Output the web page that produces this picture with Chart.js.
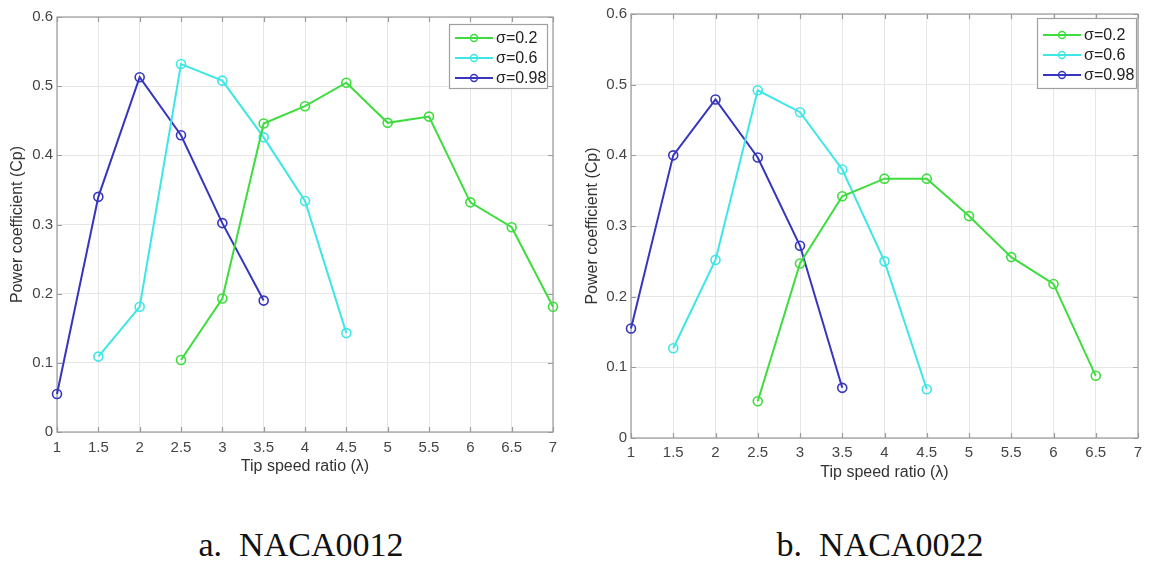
<!DOCTYPE html>
<html>
<head>
<meta charset="utf-8">
<script src="https://cdn.jsdelivr.net/npm/chart.js@4.4.1/dist/chart.umd.min.js"></script>
<style>
  html, body { margin: 0; padding: 0; background: #fff; }
  body { width: 1149px; height: 564px; position: relative; overflow: hidden; }
  .box { position: absolute; top: 0; height: 490px; }
  .cap { position: absolute; top: 526px; font-family: "Liberation Serif", "DejaVu Serif", serif; font-size: 34px; color: #111; white-space: pre; transform: translateX(-50%); }
</style>
</head>
<body>
<div class="box" style="left:0;width:575px"><canvas id="c1"></canvas></div>
<div class="box" style="left:575px;width:574px"><canvas id="c2"></canvas></div>
<div class="cap" style="left:301px">a.  NACA0012</div>
<div class="cap" style="left:880px">b.  NACA0022</div>
<script>
// ---- data ----
const seriesLabels = ["σ=0.2", "σ=0.6", "σ=0.98"];
const seriesColors = ["#3fdc3f", "#3ee6e6", "#3535c0"];

// NACA0012
const a_x02 = [2.5, 3, 3.5, 4, 4.5, 5, 5.5, 6, 6.5, 7];
const a_y02 = [0.104, 0.193, 0.446, 0.471, 0.505, 0.447, 0.456, 0.332, 0.296, 0.181];
const a_x06 = [1.5, 2, 2.5, 3, 3.5, 4, 4.5];
const a_y06 = [0.109, 0.181, 0.532, 0.508, 0.426, 0.334, 0.143];
const a_x098 = [1, 1.5, 2, 2.5, 3, 3.5];
const a_y098 = [0.055, 0.340, 0.513, 0.429, 0.302, 0.190];

// NACA0022
const b_x02 = [2.5, 3, 3.5, 4, 4.5, 5, 5.5, 6, 6.5];
const b_y02 = [0.052, 0.247, 0.342, 0.367, 0.367, 0.314, 0.256, 0.218, 0.088];
const b_x06 = [1.5, 2, 2.5, 3, 3.5, 4, 4.5];
const b_y06 = [0.127, 0.252, 0.492, 0.461, 0.380, 0.250, 0.069];
const b_x098 = [1, 1.5, 2, 2.5, 3, 3.5];
const b_y098 = [0.155, 0.400, 0.479, 0.397, 0.272, 0.071];

const xTitle = "Tip speed ratio (λ)";
const yTitle = "Power coefficient (Cp)";

function pts(xs, ys) { return xs.map((x, i) => ({ x: x, y: ys[i] })); }
function fmt(v) { return String(Number(Number(v).toFixed(2))); }

function ds(i, xs, ys) {
  return {
    label: seriesLabels[i],
    data: pts(xs, ys),
    borderColor: seriesColors[i],
    backgroundColor: "rgba(0,0,0,0)",
    borderWidth: 2,
    pointRadius: 4.5,
    pointBorderWidth: 1.6,
    pointBackgroundColor: "rgba(0,0,0,0)",
    pointBorderColor: seriesColors[i],
    tension: 0,
    clip: false
  };
}

const framePlugin = {
  id: "frame",
  beforeDatasetsDraw(chart) {
    const ctx = chart.ctx, a = chart.chartArea;
    const xs = chart.scales.x, ys = chart.scales.y;
    ctx.save();
    ctx.strokeStyle = "#9a9a9a";
    ctx.lineWidth = 1.2;
    ctx.strokeRect(a.left, a.top, a.right - a.left, a.bottom - a.top);
    ctx.beginPath();
    xs.ticks.forEach(t => {
      const p = Math.round(xs.getPixelForValue(t.value)) + 0.5;
      ctx.moveTo(p, a.bottom); ctx.lineTo(p, a.bottom - 5);
      ctx.moveTo(p, a.top); ctx.lineTo(p, a.top + 5);
    });
    ys.ticks.forEach(t => {
      const p = Math.round(ys.getPixelForValue(t.value)) + 0.5;
      ctx.moveTo(a.left, p); ctx.lineTo(a.left + 5, p);
      ctx.moveTo(a.right, p); ctx.lineTo(a.right - 5, p);
    });
    ctx.stroke();
    ctx.restore();
  },
  afterDraw(chart) {
    const o = chart.options.plugins.frame;
    const ctx = chart.ctx, a = chart.chartArea;
    const bx = a.right - o.dx - o.w, by = a.top + o.dy;
    ctx.save();
    ctx.fillStyle = "#fff";
    ctx.fillRect(bx, by, o.w, o.h);
    ctx.strokeStyle = "#a0a0a0";
    ctx.lineWidth = 1.2;
    ctx.strokeRect(bx + 0.5, by + 0.5, o.w, o.h);
    chart.data.datasets.forEach((d, i) => {
      const yy = by + o.first + i * o.step;
      ctx.strokeStyle = d.borderColor;
      ctx.lineWidth = 2;
      ctx.beginPath();
      ctx.moveTo(bx + 6, yy); ctx.lineTo(bx + 44, yy);
      ctx.stroke();
      ctx.lineWidth = 1.4;
      ctx.beginPath();
      ctx.arc(bx + 25, yy, 3.5, 0, Math.PI * 2);
      ctx.stroke();
      ctx.fillStyle = "#222";
      ctx.font = "16px 'Liberation Sans', Arial, sans-serif";
      ctx.textBaseline = "middle";
      ctx.textAlign = "left";
      ctx.fillText(d.label, bx + 47, yy + 1);
    });
    ctx.restore();
  }
};

function makeChart(id, datasets, geo) {
  const H = 490;
  return new Chart(document.getElementById(id), {
    type: "line",
    data: { datasets: datasets },
    plugins: [framePlugin],
    options: {
      responsive: true,
      maintainAspectRatio: false,
      animation: false,
      events: [],
      layout: { padding: { left: 0, top: geo.top, right: geo.W - geo.right, bottom: 0 } },
      plugins: {
        legend: { display: false },
        tooltip: { enabled: false },
        frame: geo.legend
      },
      scales: {
        x: {
          type: "linear", min: 1, max: 7,
          afterFit: s => { s.height = H - geo.bottom; },
          border: { display: false },
          grid: { color: "#e6e6e6", lineWidth: 1, drawTicks: false },
          ticks: { stepSize: 0.5, padding: geo.xpad, color: "#444", callback: fmt, font: { family: "'Liberation Sans', Arial, sans-serif", size: 15 }, maxRotation: 0, autoSkip: false },
          title: { display: true, text: xTitle, color: "#333", font: { family: "'Liberation Sans', Arial, sans-serif", size: 16 }, padding: { top: 0, bottom: geo.xtp } }
        },
        y: {
          type: "linear", min: 0, max: 0.6,
          afterFit: s => { s.width = geo.left; },
          border: { display: false },
          grid: { color: "#e6e6e6", lineWidth: 1, drawTicks: false },
          ticks: { stepSize: 0.1, padding: 4, color: "#444", callback: fmt, font: { family: "'Liberation Sans', Arial, sans-serif", size: 15 } },
          title: { display: true, text: yTitle, color: "#333", font: { family: "'Liberation Sans', Arial, sans-serif", size: 16 }, padding: { top: 8, bottom: 0 } }
        }
      }
    }
  });
}

makeChart("c1", [ds(0, a_x02, a_y02), ds(1, a_x06, a_y06), ds(2, a_x098, a_y098)],
  { W: 575, left: 57, right: 553, top: 17, bottom: 432, xpad: 7, xtp: 14,
    legend: { dx: 6, dy: 7, w: 98, h: 64, first: 14, step: 20 } });
makeChart("c2", [ds(0, b_x02, b_y02), ds(1, b_x06, b_y06), ds(2, b_x098, b_y098)],
  { W: 574, left: 56, right: 563, top: 14, bottom: 438, xpad: 6, xtp: 8,
    legend: { dx: 2, dy: 4, w: 99, h: 70, first: 17, step: 20 } });
</script>
</body>
</html>
